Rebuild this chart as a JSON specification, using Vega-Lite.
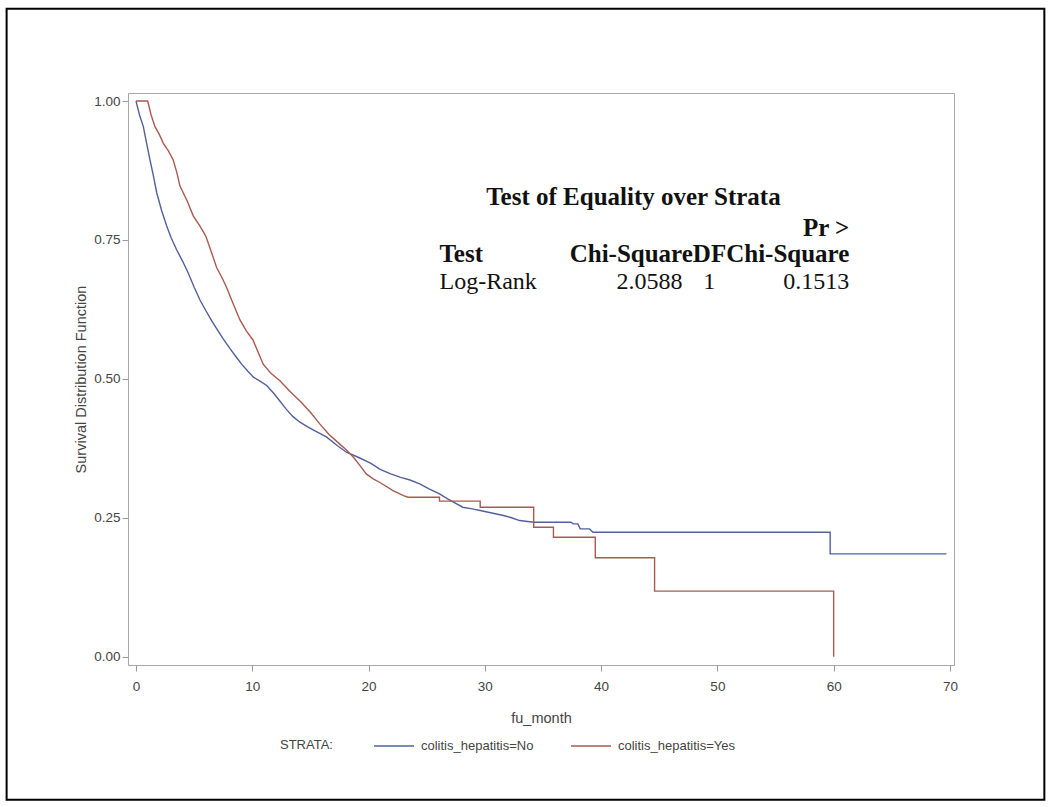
{
  "$schema": "https://vega.github.io/schema/vega-lite/v6.json",
  "width": 826,
  "height": 572,
  "autosize": {"type": "none"},
  "padding": {"left": 128, "top": 93, "right": 99, "bottom": 142},
  "background": "white",
  "config": {
    "view": {"stroke": "#a8a8a8", "strokeWidth": 1},
    "axis": {
      "labelFont": "Liberation Sans",
      "titleFont": "Liberation Sans",
      "labelFontSize": 13.5,
      "titleFontSize": 14.5,
      "labelColor": "#444444",
      "titleColor": "#444444",
      "titleFontWeight": "normal",
      "tickColor": "#9a9a9a",
      "tickSize": 6,
      "domain": false,
      "grid": false
    },
    "legend": {
      "labelFont": "Liberation Sans",
      "titleFont": "Liberation Sans",
      "labelFontSize": 13,
      "titleFontSize": 13,
      "labelColor": "#444444",
      "titleColor": "#444444",
      "titleFontWeight": "normal"
    }
  },
  "datasets": {
    "km": [
      {"strata": "colitis_hepatitis=No", "month": 0, "surv": 1.0},
      {"strata": "colitis_hepatitis=No", "month": 0.3, "surv": 0.975},
      {"strata": "colitis_hepatitis=No", "month": 0.63, "surv": 0.954},
      {"strata": "colitis_hepatitis=No", "month": 0.9, "surv": 0.925},
      {"strata": "colitis_hepatitis=No", "month": 1.2, "surv": 0.894},
      {"strata": "colitis_hepatitis=No", "month": 1.5, "surv": 0.865},
      {"strata": "colitis_hepatitis=No", "month": 1.78, "surv": 0.835},
      {"strata": "colitis_hepatitis=No", "month": 2.2, "surv": 0.803},
      {"strata": "colitis_hepatitis=No", "month": 2.64, "surv": 0.775},
      {"strata": "colitis_hepatitis=No", "month": 3.0, "surv": 0.755},
      {"strata": "colitis_hepatitis=No", "month": 3.5, "surv": 0.732},
      {"strata": "colitis_hepatitis=No", "month": 4.0, "surv": 0.712},
      {"strata": "colitis_hepatitis=No", "month": 4.5, "surv": 0.69},
      {"strata": "colitis_hepatitis=No", "month": 5.0, "surv": 0.665},
      {"strata": "colitis_hepatitis=No", "month": 5.5, "surv": 0.642},
      {"strata": "colitis_hepatitis=No", "month": 6.0, "surv": 0.623},
      {"strata": "colitis_hepatitis=No", "month": 6.5, "surv": 0.605},
      {"strata": "colitis_hepatitis=No", "month": 7.0, "surv": 0.588},
      {"strata": "colitis_hepatitis=No", "month": 7.5, "surv": 0.572},
      {"strata": "colitis_hepatitis=No", "month": 8.1, "surv": 0.554},
      {"strata": "colitis_hepatitis=No", "month": 8.66, "surv": 0.538},
      {"strata": "colitis_hepatitis=No", "month": 9.1, "surv": 0.526},
      {"strata": "colitis_hepatitis=No", "month": 9.6, "surv": 0.514},
      {"strata": "colitis_hepatitis=No", "month": 10.1, "surv": 0.503},
      {"strata": "colitis_hepatitis=No", "month": 10.66, "surv": 0.496},
      {"strata": "colitis_hepatitis=No", "month": 11.24, "surv": 0.488},
      {"strata": "colitis_hepatitis=No", "month": 11.8, "surv": 0.475},
      {"strata": "colitis_hepatitis=No", "month": 12.3, "surv": 0.462},
      {"strata": "colitis_hepatitis=No", "month": 12.9, "surv": 0.446},
      {"strata": "colitis_hepatitis=No", "month": 13.5, "surv": 0.432},
      {"strata": "colitis_hepatitis=No", "month": 14.1, "surv": 0.422},
      {"strata": "colitis_hepatitis=No", "month": 14.8, "surv": 0.413},
      {"strata": "colitis_hepatitis=No", "month": 15.6, "surv": 0.404},
      {"strata": "colitis_hepatitis=No", "month": 16.4, "surv": 0.395},
      {"strata": "colitis_hepatitis=No", "month": 17.3, "surv": 0.38},
      {"strata": "colitis_hepatitis=No", "month": 18.1, "surv": 0.368},
      {"strata": "colitis_hepatitis=No", "month": 19.2, "surv": 0.358},
      {"strata": "colitis_hepatitis=No", "month": 20.2, "surv": 0.348},
      {"strata": "colitis_hepatitis=No", "month": 21.0, "surv": 0.337},
      {"strata": "colitis_hepatitis=No", "month": 21.9, "surv": 0.329},
      {"strata": "colitis_hepatitis=No", "month": 22.7, "surv": 0.323},
      {"strata": "colitis_hepatitis=No", "month": 23.56, "surv": 0.318},
      {"strata": "colitis_hepatitis=No", "month": 24.4, "surv": 0.311},
      {"strata": "colitis_hepatitis=No", "month": 25.2, "surv": 0.302},
      {"strata": "colitis_hepatitis=No", "month": 26.1, "surv": 0.293},
      {"strata": "colitis_hepatitis=No", "month": 26.8, "surv": 0.284},
      {"strata": "colitis_hepatitis=No", "month": 27.3, "surv": 0.278},
      {"strata": "colitis_hepatitis=No", "month": 28.1, "surv": 0.269},
      {"strata": "colitis_hepatitis=No", "month": 28.9, "surv": 0.266},
      {"strata": "colitis_hepatitis=No", "month": 29.6, "surv": 0.263},
      {"strata": "colitis_hepatitis=No", "month": 30.5, "surv": 0.259},
      {"strata": "colitis_hepatitis=No", "month": 31.6, "surv": 0.254},
      {"strata": "colitis_hepatitis=No", "month": 32.3, "surv": 0.25},
      {"strata": "colitis_hepatitis=No", "month": 33.0, "surv": 0.245},
      {"strata": "colitis_hepatitis=No", "month": 34.2, "surv": 0.242},
      {"strata": "colitis_hepatitis=No", "month": 37.4, "surv": 0.242},
      {"strata": "colitis_hepatitis=No", "month": 37.6, "surv": 0.239},
      {"strata": "colitis_hepatitis=No", "month": 38.0, "surv": 0.239},
      {"strata": "colitis_hepatitis=No", "month": 38.2, "surv": 0.23},
      {"strata": "colitis_hepatitis=No", "month": 39.0, "surv": 0.23},
      {"strata": "colitis_hepatitis=No", "month": 39.3, "surv": 0.224},
      {"strata": "colitis_hepatitis=No", "month": 59.7, "surv": 0.224},
      {"strata": "colitis_hepatitis=No", "month": 59.7, "surv": 0.185},
      {"strata": "colitis_hepatitis=No", "month": 69.7, "surv": 0.185},
      {"strata": "colitis_hepatitis=Yes", "month": 0, "surv": 1.0},
      {"strata": "colitis_hepatitis=Yes", "month": 1.0, "surv": 1.0},
      {"strata": "colitis_hepatitis=Yes", "month": 1.3, "surv": 0.975},
      {"strata": "colitis_hepatitis=Yes", "month": 1.63, "surv": 0.954},
      {"strata": "colitis_hepatitis=Yes", "month": 2.0, "surv": 0.94},
      {"strata": "colitis_hepatitis=Yes", "month": 2.35, "surv": 0.924},
      {"strata": "colitis_hepatitis=Yes", "month": 2.8, "surv": 0.91},
      {"strata": "colitis_hepatitis=Yes", "month": 3.2, "surv": 0.894},
      {"strata": "colitis_hepatitis=Yes", "month": 3.5, "surv": 0.872},
      {"strata": "colitis_hepatitis=Yes", "month": 3.78, "surv": 0.847},
      {"strata": "colitis_hepatitis=Yes", "month": 4.4, "surv": 0.82},
      {"strata": "colitis_hepatitis=Yes", "month": 4.93, "surv": 0.793},
      {"strata": "colitis_hepatitis=Yes", "month": 5.5, "surv": 0.775},
      {"strata": "colitis_hepatitis=Yes", "month": 6.0, "surv": 0.757},
      {"strata": "colitis_hepatitis=Yes", "month": 6.5, "surv": 0.727},
      {"strata": "colitis_hepatitis=Yes", "month": 6.94, "surv": 0.7},
      {"strata": "colitis_hepatitis=Yes", "month": 7.4, "surv": 0.682},
      {"strata": "colitis_hepatitis=Yes", "month": 7.8, "surv": 0.664},
      {"strata": "colitis_hepatitis=Yes", "month": 8.3, "surv": 0.638},
      {"strata": "colitis_hepatitis=Yes", "month": 8.94, "surv": 0.606},
      {"strata": "colitis_hepatitis=Yes", "month": 9.5, "surv": 0.586},
      {"strata": "colitis_hepatitis=Yes", "month": 10.06, "surv": 0.57},
      {"strata": "colitis_hepatitis=Yes", "month": 10.5, "surv": 0.548},
      {"strata": "colitis_hepatitis=Yes", "month": 10.95, "surv": 0.526},
      {"strata": "colitis_hepatitis=Yes", "month": 11.6, "surv": 0.51},
      {"strata": "colitis_hepatitis=Yes", "month": 12.4, "surv": 0.496},
      {"strata": "colitis_hepatitis=Yes", "month": 13.2, "surv": 0.478},
      {"strata": "colitis_hepatitis=Yes", "month": 14.1, "surv": 0.46},
      {"strata": "colitis_hepatitis=Yes", "month": 15.0, "surv": 0.44},
      {"strata": "colitis_hepatitis=Yes", "month": 15.8, "surv": 0.419},
      {"strata": "colitis_hepatitis=Yes", "month": 16.6, "surv": 0.4},
      {"strata": "colitis_hepatitis=Yes", "month": 17.5, "surv": 0.383},
      {"strata": "colitis_hepatitis=Yes", "month": 18.1, "surv": 0.372},
      {"strata": "colitis_hepatitis=Yes", "month": 18.7, "surv": 0.359},
      {"strata": "colitis_hepatitis=Yes", "month": 19.3, "surv": 0.343},
      {"strata": "colitis_hepatitis=Yes", "month": 19.8, "surv": 0.329},
      {"strata": "colitis_hepatitis=Yes", "month": 20.4, "surv": 0.32},
      {"strata": "colitis_hepatitis=Yes", "month": 20.98, "surv": 0.3135},
      {"strata": "colitis_hepatitis=Yes", "month": 22.1, "surv": 0.299},
      {"strata": "colitis_hepatitis=Yes", "month": 23.0, "surv": 0.29},
      {"strata": "colitis_hepatitis=Yes", "month": 23.4, "surv": 0.287},
      {"strata": "colitis_hepatitis=Yes", "month": 26.1, "surv": 0.287},
      {"strata": "colitis_hepatitis=Yes", "month": 26.1, "surv": 0.28},
      {"strata": "colitis_hepatitis=Yes", "month": 29.6, "surv": 0.28},
      {"strata": "colitis_hepatitis=Yes", "month": 29.6, "surv": 0.269},
      {"strata": "colitis_hepatitis=Yes", "month": 34.2, "surv": 0.269},
      {"strata": "colitis_hepatitis=Yes", "month": 34.2, "surv": 0.233},
      {"strata": "colitis_hepatitis=Yes", "month": 35.9, "surv": 0.233},
      {"strata": "colitis_hepatitis=Yes", "month": 35.9, "surv": 0.215},
      {"strata": "colitis_hepatitis=Yes", "month": 39.5, "surv": 0.215},
      {"strata": "colitis_hepatitis=Yes", "month": 39.5, "surv": 0.178},
      {"strata": "colitis_hepatitis=Yes", "month": 44.6, "surv": 0.178},
      {"strata": "colitis_hepatitis=Yes", "month": 44.6, "surv": 0.118},
      {"strata": "colitis_hepatitis=Yes", "month": 60.0, "surv": 0.118},
      {"strata": "colitis_hepatitis=Yes", "month": 60.0, "surv": 0.0}
    ],
    "one": [{"row": 1}]
  },
  "layer": [
    {
      "data": {"name": "km"},
      "mark": {"type": "line", "interpolate": "linear", "strokeWidth": 1.4},
      "encoding": {
        "x": {
          "field": "month", "type": "quantitative",
          "scale": {"domain": [-0.69, 70.35], "nice": false, "zero": false},
          "axis": {"title": "fu_month", "values": [0, 10, 20, 30, 40, 50, 60, 70], "labelPadding": 8, "titlePadding": 19}
        },
        "y": {
          "field": "surv", "type": "quantitative",
          "scale": {"domain": [-0.015, 1.0145], "nice": false, "zero": false},
          "axis": {"title": "Survival Distribution Function", "values": [0, 0.25, 0.5, 0.75, 1], "format": ".2f", "labelPadding": 2, "titlePadding": 5}
        },
        "color": {
          "field": "strata", "type": "nominal",
          "scale": {"domain": ["colitis_hepatitis=No", "colitis_hepatitis=Yes"], "range": ["#52609a", "#a85a50"]},
          "legend": {
            "title": "STRATA:",
            "orient": "none",
            "legendX": 152,
            "legendY": 632,
            "direction": "horizontal",
            "titleOrient": "left",
            "titleAnchor": "middle",
            "titleBaseline": "top",
            "titlePadding": 40,
            "symbolType": "stroke",
            "symbolSize": 1600,
            "symbolStrokeWidth": 1.4,
            "labelOffset": 6,
            "columnPadding": 34
          }
        }
      }
    },
    {
      "data": {"name": "one"},
      "mark": {"type": "rect", "fillOpacity": 0, "stroke": "#000000", "strokeWidth": 2},
      "encoding": {
        "x": {"datum": -11.13, "type": "quantitative"},
        "x2": {"datum": 78.12},
        "y": {"datum": 1.1663, "type": "quantitative"},
        "y2": {"datum": -0.2576}
      }
    },
    {
      "data": {"name": "one"},
      "mark": {"type": "text", "font": "Liberation Serif", "fontSize": 25, "fontWeight": "bold", "align": "center", "baseline": "middle", "color": "#111111"},
      "encoding": {"x": {"datum": 42.78, "type": "quantitative"}, "y": {"datum": 0.8265, "type": "quantitative"}, "text": {"value": "Test of Equality over Strata"}}
    },
    {
      "data": {"name": "one"},
      "mark": {"type": "text", "font": "Liberation Serif", "fontSize": 25, "fontWeight": "bold", "align": "right", "baseline": "middle", "color": "#111111"},
      "encoding": {"x": {"datum": 61.35, "type": "quantitative"}, "y": {"datum": 0.7708, "type": "quantitative"}, "text": {"value": "Pr >"}}
    },
    {
      "data": {"name": "one"},
      "mark": {"type": "text", "font": "Liberation Serif", "fontSize": 25, "fontWeight": "bold", "align": "left", "baseline": "middle", "color": "#111111"},
      "encoding": {"x": {"datum": 26.1, "type": "quantitative"}, "y": {"datum": 0.724, "type": "quantitative"}, "text": {"value": "Test"}}
    },
    {
      "data": {"name": "one"},
      "mark": {"type": "text", "font": "Liberation Serif", "fontSize": 25, "fontWeight": "bold", "align": "right", "baseline": "middle", "color": "#111111"},
      "encoding": {"x": {"datum": 61.35, "type": "quantitative"}, "y": {"datum": 0.724, "type": "quantitative"}, "text": {"value": "Chi-SquareDFChi-Square"}}
    },
    {
      "data": {"name": "one"},
      "mark": {"type": "text", "font": "Liberation Serif", "fontSize": 24, "align": "left", "baseline": "middle", "color": "#111111"},
      "encoding": {"x": {"datum": 26.1, "type": "quantitative"}, "y": {"datum": 0.674, "type": "quantitative"}, "text": {"value": "Log-Rank"}}
    },
    {
      "data": {"name": "one"},
      "mark": {"type": "text", "font": "Liberation Serif", "fontSize": 24, "align": "right", "baseline": "middle", "color": "#111111"},
      "encoding": {"x": {"datum": 47.0, "type": "quantitative"}, "y": {"datum": 0.674, "type": "quantitative"}, "text": {"value": "2.0588"}}
    },
    {
      "data": {"name": "one"},
      "mark": {"type": "text", "font": "Liberation Serif", "fontSize": 24, "align": "center", "baseline": "middle", "color": "#111111"},
      "encoding": {"x": {"datum": 49.3, "type": "quantitative"}, "y": {"datum": 0.674, "type": "quantitative"}, "text": {"value": "1"}}
    },
    {
      "data": {"name": "one"},
      "mark": {"type": "text", "font": "Liberation Serif", "fontSize": 24, "align": "right", "baseline": "middle", "color": "#111111"},
      "encoding": {"x": {"datum": 61.35, "type": "quantitative"}, "y": {"datum": 0.674, "type": "quantitative"}, "text": {"value": "0.1513"}}
    }
  ]
}
